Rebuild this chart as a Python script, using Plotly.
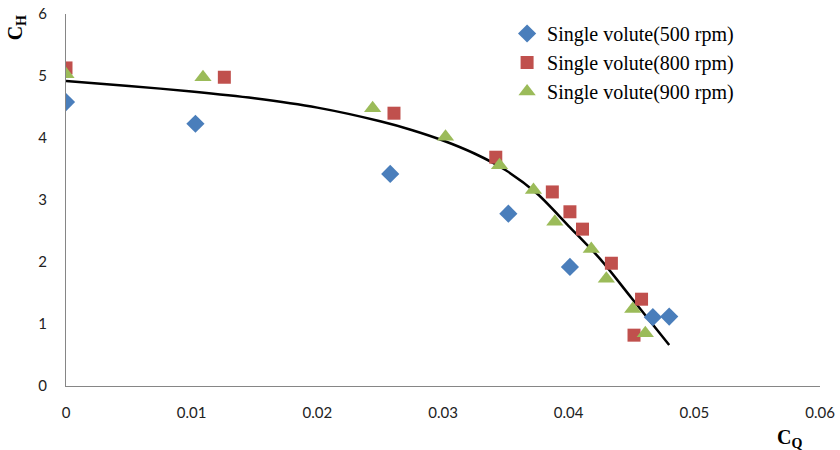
import plotly.graph_objects as go

# Data
cq_500 = [0.0, 0.0103, 0.0258, 0.0352, 0.0401, 0.0467, 0.0480]
ch_500 = [4.58, 4.23, 3.42, 2.78, 1.92, 1.11, 1.12]

cq_800 = [0.0, 0.0126, 0.0261, 0.0342, 0.0387, 0.0401, 0.0411, 0.0434, 0.0458, 0.0452]
ch_800 = [5.13, 4.98, 4.40, 3.69, 3.13, 2.81, 2.53, 1.98, 1.40, 0.82]

cq_900 = [0.0, 0.0109, 0.0244, 0.0302, 0.0345, 0.0372, 0.0389, 0.0418, 0.0430, 0.0451, 0.0461]
ch_900 = [5.03, 4.98, 4.48, 4.02, 3.56, 3.16, 2.65, 2.21, 1.73, 1.24, 0.85]

# Trend line
trend_cq = [0.0, 0.005, 0.01, 0.015, 0.02, 0.025, 0.0275, 0.03, 0.0325, 0.035,
            0.0375, 0.04, 0.0425, 0.045, 0.048]
trend_ch = [4.92, 4.84, 4.75, 4.64, 4.49, 4.27, 4.13, 3.96, 3.75, 3.48,
            3.10, 2.58, 2.05, 1.42, 0.66]

x_ticks = [0, 0.01, 0.02, 0.03, 0.04, 0.05, 0.06]
x_tick_text = ["0", "0.01", "0.02", "0.03", "0.04", "0.05", "0.06"]
y_ticks = [0, 1, 2, 3, 4, 5, 6]

serif = "Liberation Serif"

fig = go.Figure()
fig.add_trace(go.Scatter(x=trend_cq, y=trend_ch, mode="lines",
                         line=dict(color="black", width=2.5, shape="spline", smoothing=0.8),
                         showlegend=False, hoverinfo="skip"))
fig.add_trace(go.Scatter(x=cq_500, y=ch_500, mode="markers", name="Single volute(500 rpm)",
                         marker=dict(symbol="diamond", size=14, color="#4A7EBB")))
fig.add_trace(go.Scatter(x=cq_800, y=ch_800, mode="markers", name="Single volute(800 rpm)",
                         marker=dict(symbol="square", size=13, color="#C0504D")))
fig.add_trace(go.Scatter(x=cq_900, y=ch_900, mode="markers", name="Single volute(900 rpm)",
                         marker=dict(symbol="triangle-up", size=15, color="#9BBB59")))

fig.update_layout(
    width=840, height=450,
    margin=dict(l=66, r=20, t=14, b=64, autoexpand=False),
    paper_bgcolor="white", plot_bgcolor="white",
    font=dict(family="Lato", size=15, color="#222"),
    legend=dict(x=0.585, y=1.0, xanchor="left", yanchor="top",
                font=dict(family=serif, size=20, color="black"),
                bgcolor="rgba(0,0,0,0)", itemwidth=30, tracegroupgap=0),
    xaxis=dict(range=[0, 0.06], tickvals=x_ticks, ticktext=x_tick_text, automargin=False,
               showgrid=False, zeroline=False, showline=True, linecolor="#868686",
               linewidth=1, ticks="", ticklabelstandoff=13),
    yaxis=dict(range=[0, 6], tickvals=y_ticks, showgrid=False, zeroline=False, automargin=False,
               showline=True, linecolor="#868686", linewidth=1, ticks="",
               ticklabelstandoff=15),
    annotations=[
        dict(text="<b>C<sub>H</sub></b>", x=-0.066, y=0.962, xref="paper", yref="paper",
             showarrow=False, textangle=-90, xanchor="center", yanchor="middle",
             font=dict(family=serif, size=20, color="black")),
        dict(text="<b>C<sub>Q</sub></b>", x=0.959, y=-0.14, xref="paper", yref="paper",
             showarrow=False, xanchor="center", yanchor="middle",
             font=dict(family=serif, size=20, color="black")),
    ],
)
fig.write_html("out.html", config={"displayModeBar": False},
               post_script="document.body.style.margin='0';document.body.style.overflow='hidden';")
